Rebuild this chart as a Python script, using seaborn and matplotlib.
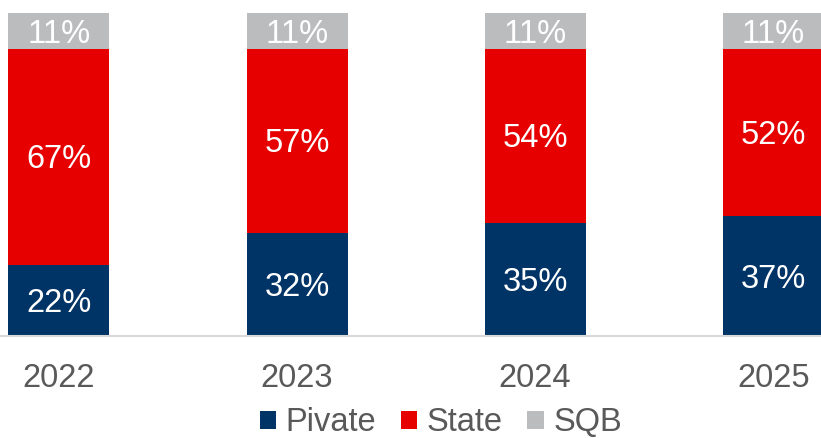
import matplotlib
matplotlib.use("Agg")
import matplotlib.pyplot as plt
from matplotlib.patches import Patch
import numpy as np
import pandas as pd
import seaborn as sns

years = ["2022", "2023", "2024", "2025"]
private = [22, 32, 35, 37]
state = [67, 57, 54, 52]
sqb = [11, 11, 11, 11]
series_names = ["Pivate", "State", "SQB"]
colors = ["#003366", "#E60000", "#BBBCBE"]

sns.set_theme(style="white")
plt.rcParams["font.family"] = ["Liberation Sans", "DejaVu Sans"]

df = pd.DataFrame({"year": years, "Pivate": private, "State": state, "SQB": sqb})
df["cum_private"] = df["Pivate"]
df["cum_state"] = df["Pivate"] + df["State"]
df["cum_sqb"] = df["cum_state"] + df["SQB"]

fig = plt.figure(figsize=(8.21, 4.38), dpi=100)
ax = fig.add_axes([0.0, 0.2329, 1.0, 0.7374])

# Stacked bars drawn as overlapping cumulative totals, tallest first
for col, color in zip(["cum_sqb", "cum_state", "cum_private"], colors[::-1]):
    sns.barplot(data=df, x="year", y=col, color=color, width=0.424,
                saturation=1, ax=ax, linewidth=0)

# Segment labels
for i in range(len(years)):
    base = 0
    for name in series_names:
        v = df[name].iloc[i]
        ax.text(i, base + v / 2 - 1.0, f"{v}%", ha="center", va="center",
                color="white", fontsize=23.5)
        base += v

ax.set_xlim(-0.247, 3.2)
ax.set_ylim(0, 100)
ax.set_xlabel("")
ax.set_ylabel("")
ax.set_yticks([])
ax.tick_params(axis="x", length=0, pad=19.5, labelsize=23.5, labelcolor="#595959")
for s in ["top", "left", "right"]:
    ax.spines[s].set_visible(False)
ax.spines["bottom"].set_color("#D9D9D9")
ax.spines["bottom"].set_linewidth(1.5)

handles = [Patch(facecolor=c, edgecolor="none") for c in colors]
fig.legend(handles, series_names, loc="lower center", ncol=3,
           bbox_to_anchor=(0.537, -0.068), frameon=False, fontsize=23.5,
           labelcolor="#595959", handlelength=0.5, handleheight=0.5,
           handletextpad=0.3, columnspacing=0.75)

fig.savefig("out.png", dpi=100)
